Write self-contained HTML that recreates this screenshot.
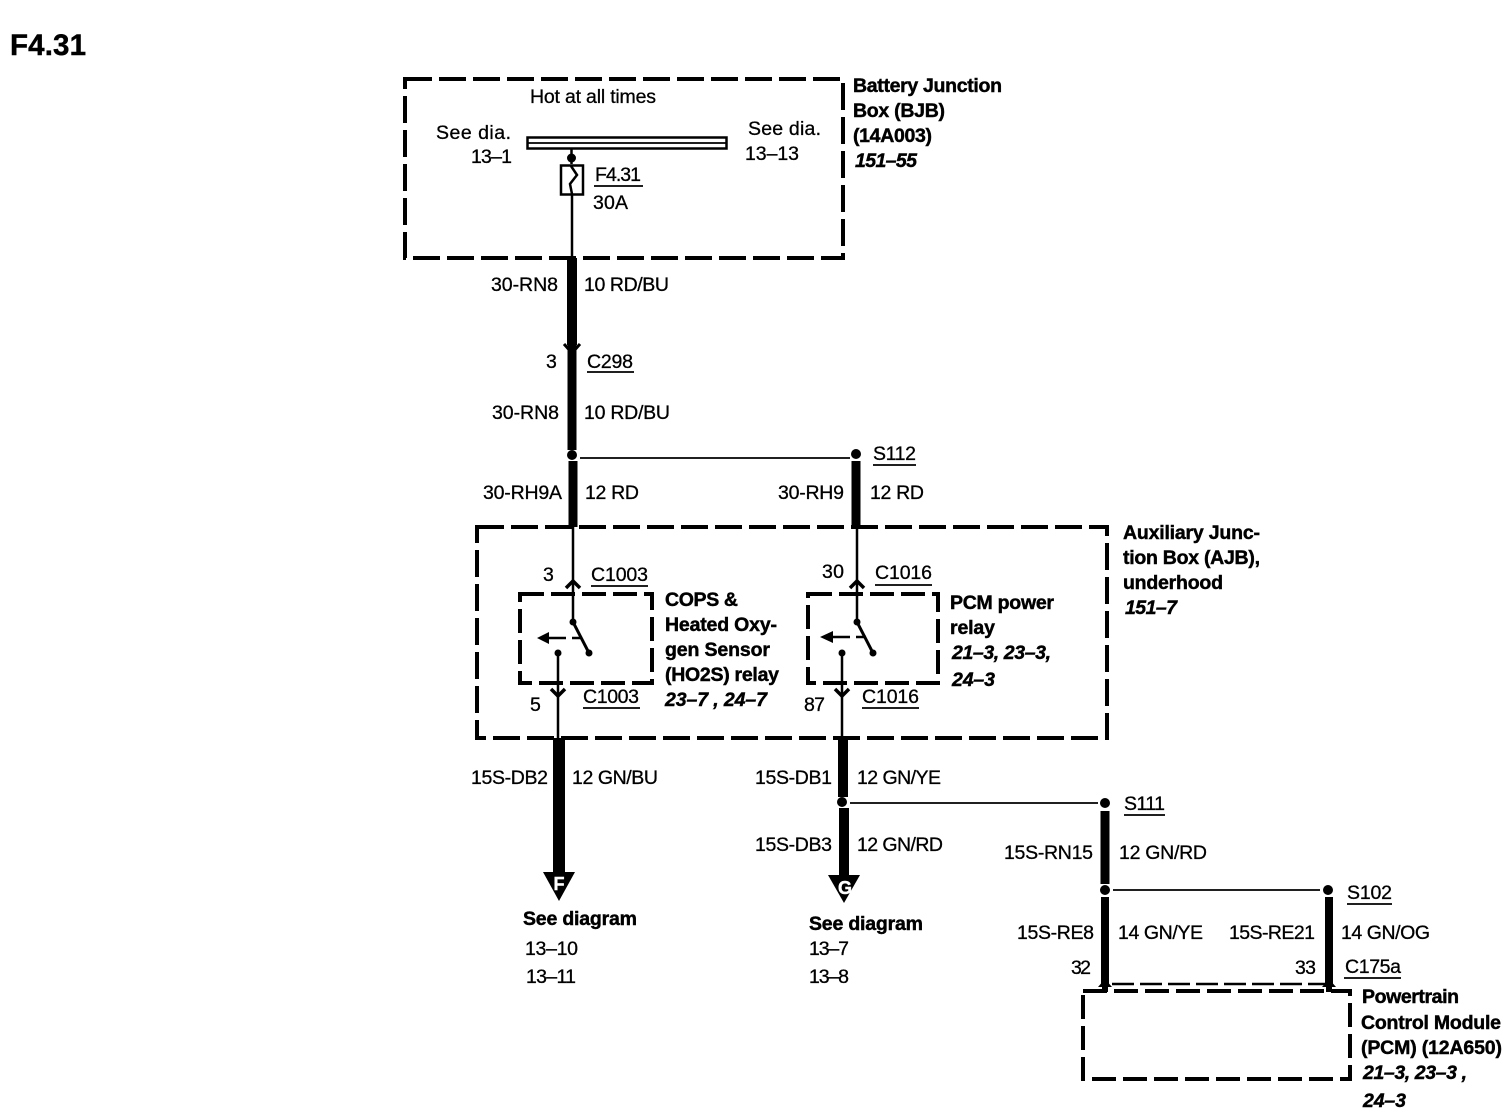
<!DOCTYPE html>
<html><head><meta charset="utf-8"><style>
html,body{margin:0;padding:0;background:#fff}
svg{display:block}
text{font-family:"Liberation Sans",sans-serif;font-size:19.5px;fill:#000;stroke:#000;stroke-width:.3}
.b{font-weight:bold;stroke-width:.45}
.i{font-weight:bold;font-style:italic;stroke-width:.45}
.box{fill:none;stroke:#000;stroke-width:4;stroke-dasharray:27 7}
.rel{fill:none;stroke:#000;stroke-width:4;stroke-dasharray:24 7}
.th{stroke:#000;fill:none}
</style></head><body>
<svg width="1512" height="1120" viewBox="0 0 1512 1120" xmlns="http://www.w3.org/2000/svg">
<rect width="1512" height="1120" fill="#fff"/>
<!-- boxes -->
<rect class="box" x="405" y="79" width="438" height="179"/>
<rect class="box" x="477" y="527" width="630" height="211"/>
<rect class="rel" x="520" y="594" width="132" height="89"/>
<rect class="rel" x="808" y="594" width="130" height="89"/>
<rect class="rel" x="1083" y="991" width="267" height="88"/>
<path class="th" stroke-width="2.500" stroke-dasharray="22 6" d="M1112 984H1325"/>
<!-- bus and fuse -->
<rect x="527.500" y="137.500" width="199" height="11" fill="#fff" stroke="#000" stroke-width="2.500"/>
<path class="th" stroke-width="1.800" d="M528 143H726"/>
<path class="th" stroke-width="2.500" d="M571.500 148V164"/>
<circle cx="571.500" cy="158" r="4.500"/>
<rect x="561" y="165.500" width="22" height="29" fill="#fff" stroke="#000" stroke-width="2.500"/>
<path class="th" stroke-width="2.500" d="M571 166L577 175L570 184L572 194"/>
<path class="th" stroke-width="2.500" d="M572 194V258"/>
<!-- left trunk -->
<path class="th" stroke-width="10" d="M572 258V345"/>
<path class="th" stroke-width="9" d="M572 345V450M573 461V527"/>
<path class="th" stroke-width="3" d="M564 344L572 353L580 344"/>
<circle cx="572" cy="455" r="5"/>
<path class="th" stroke-width="1.800" d="M580 458H850"/>
<circle cx="856" cy="454" r="5"/>
<path class="th" stroke-width="9" d="M856 461V527"/>
<!-- relay 1 -->
<path class="th" stroke-width="2.500" d="M573 527V622"/>
<path class="th" stroke-width="3.500" d="M566 588L573 581L580 588"/>
<circle cx="573" cy="622" r="3.500"/><path class="th" stroke-width="3" d="M573 622L589 653"/><circle cx="589" cy="653" r="3.500"/>
<path class="th" stroke-width="2.500" d="M548 638H566M572 638H581"/>
<path d="M537 638L549 632V644Z"/>
<circle cx="558" cy="653" r="3.500"/>
<path class="th" stroke-width="2.500" d="M558 653V738"/>
<path class="th" stroke-width="3.500" d="M551 689L558 696L565 689"/>
<path class="th" stroke-width="12" d="M559 738V878"/>
<path d="M543 872H575L559 901Z"/>
<text x="559" y="890" text-anchor="middle" class="b" style="fill:#fff;stroke:#fff;font-size:18px">F</text>
<!-- relay 2 -->
<path class="th" stroke-width="2.500" d="M857 527V622"/>
<path class="th" stroke-width="3.500" d="M850 588L857 581L864 588"/>
<circle cx="857" cy="622" r="3.500"/><path class="th" stroke-width="3" d="M857 622L873 653"/><circle cx="873" cy="653" r="3.500"/>
<path class="th" stroke-width="2.500" d="M832 637H850M856 637H866"/>
<path d="M820 637L833 631V643Z"/>
<circle cx="842" cy="653" r="3.500"/>
<path class="th" stroke-width="2.500" d="M842 653V738"/>
<path class="th" stroke-width="3.500" d="M835 689L842 696L849 689"/>
<path class="th" stroke-width="10" d="M843 738V797M844 808V880"/>
<circle cx="842" cy="802" r="5"/>
<path d="M828 875H860L844 903Z"/>
<text x="845" y="894" text-anchor="middle" class="b" style="fill:#fff;stroke:#fff;font-size:18px">G</text>
<path class="th" stroke-width="1.800" d="M850 803H1098"/>
<circle cx="1105" cy="803" r="5"/>
<path class="th" stroke-width="9" d="M1105 811V884"/>
<circle cx="1105" cy="890" r="5"/>
<path class="th" stroke-width="1.800" d="M1113 890H1320"/>
<circle cx="1328" cy="890" r="5"/>
<path class="th" stroke-width="8" d="M1105 897V985M1329 897V985"/>
<path d="M1098 987L1105 979L1112 987H1108V992H1102V987Z"/>
<path d="M1322 987L1329 979L1336 987H1332V992H1326V987Z"/>
<!-- underlines -->
<path class="th" stroke-width="1.800" d="M594 186H643M587 372H634M873 465H916M591 586H648M875 585H932M583 708H640M862 708H919M1124 815H1165M1347 904H1392M1344 978H1401"/>
<!-- text -->
<text x="10" y="55" class="b" style="font-size:29.500px" textLength="76">F4.31</text>
<text x="530" y="103" textLength="126">Hot at all times</text>
<text x="436" y="139" textLength="75">See dia.</text>
<text x="471" y="163" textLength="41">13–1</text>
<text x="748" y="135" textLength="73">See dia.</text>
<text x="745" y="160" textLength="54">13–13</text>
<text x="595" y="181" textLength="46">F4.31</text>
<text x="593" y="209" textLength="35">30A</text>
<text x="853" y="92" class="b" textLength="149">Battery Junction</text>
<text x="853" y="117" class="b" textLength="92">Box (BJB)</text>
<text x="853" y="142" class="b" textLength="79">(14A003)</text>
<text x="855" y="167" class="i" textLength="62">151–55</text>
<text x="491" y="291" textLength="67">30-RN8</text>
<text x="584" y="291" textLength="85">10 RD/BU</text>
<text x="546" y="368" textLength="11">3</text>
<text x="587" y="368" textLength="46">C298</text>
<text x="492" y="419" textLength="67">30-RN8</text>
<text x="584" y="419" textLength="86">10 RD/BU</text>
<text x="873" y="460" textLength="43">S112</text>
<text x="483" y="499" textLength="79">30-RH9A</text>
<text x="585" y="499" textLength="54">12 RD</text>
<text x="778" y="499" textLength="66">30-RH9</text>
<text x="870" y="499" textLength="54">12 RD</text>
<text x="1123" y="539" class="b" textLength="137">Auxiliary Junc-</text>
<text x="1123" y="564" class="b" textLength="137">tion Box (AJB),</text>
<text x="1123" y="589" class="b" textLength="100">underhood</text>
<text x="1125" y="614" class="i" textLength="52">151–7</text>
<text x="543" y="581" textLength="10">3</text>
<text x="591" y="581" textLength="57">C1003</text>
<text x="822" y="578" textLength="22">30</text>
<text x="875" y="579" textLength="57">C1016</text>
<text x="665" y="606" class="b" textLength="73">COPS &amp;</text>
<text x="665" y="631" class="b" textLength="112">Heated Oxy-</text>
<text x="665" y="656" class="b" textLength="105">gen Sensor</text>
<text x="665" y="681" class="b" textLength="114">(HO2S) relay</text>
<text x="665" y="706" class="i" textLength="102">23–7 , 24–7</text>
<text x="950" y="609" class="b" textLength="104">PCM power</text>
<text x="950" y="634" class="b" textLength="45">relay</text>
<text x="952" y="659" class="i" textLength="99">21–3, 23–3,</text>
<text x="952" y="686" class="i" textLength="43">24–3</text>
<text x="530" y="711" textLength="10">5</text>
<text x="583" y="703" textLength="56">C1003</text>
<text x="804" y="711" textLength="21">87</text>
<text x="862" y="703" textLength="57">C1016</text>
<text x="471" y="784" textLength="77">15S-DB2</text>
<text x="572" y="784" textLength="86">12 GN/BU</text>
<text x="755" y="784" textLength="77">15S-DB1</text>
<text x="857" y="784" textLength="84">12 GN/YE</text>
<text x="1124" y="810" textLength="41">S111</text>
<text x="755" y="851" textLength="77">15S-DB3</text>
<text x="857" y="851" textLength="86">12 GN/RD</text>
<text x="1004" y="859" textLength="89">15S-RN15</text>
<text x="1119" y="859" textLength="88">12 GN/RD</text>
<text x="1347" y="899" textLength="45">S102</text>
<text x="1017" y="939" textLength="77">15S-RE8</text>
<text x="1118" y="939" textLength="85">14 GN/YE</text>
<text x="1229" y="939" textLength="86">15S-RE21</text>
<text x="1341" y="939" textLength="89">14 GN/OG</text>
<text x="1071" y="974" textLength="20">32</text>
<text x="1295" y="974" textLength="21">33</text>
<text x="1345" y="973" textLength="56">C175a</text>
<text x="1362" y="1003" class="b" textLength="97">Powertrain</text>
<text x="1361" y="1029" class="b" textLength="140">Control Module</text>
<text x="1361" y="1054" class="b" textLength="141">(PCM) (12A650)</text>
<text x="1363" y="1079" class="i" textLength="104">21–3, 23–3 ,</text>
<text x="1363" y="1107" class="i" textLength="43">24–3</text>
<text x="523" y="925" class="b" textLength="114">See diagram</text>
<text x="525" y="955" textLength="53">13–10</text>
<text x="526" y="983" textLength="50">13–11</text>
<text x="809" y="930" class="b" textLength="114">See diagram</text>
<text x="809" y="955" textLength="40">13–7</text>
<text x="809" y="983" textLength="40">13–8</text>
</svg>
</body></html>
